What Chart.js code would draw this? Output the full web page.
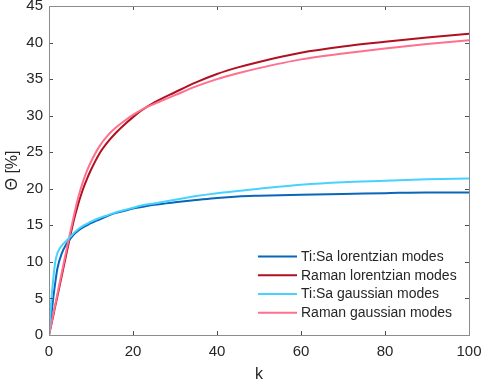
<!DOCTYPE html>
<html>
<head>
<meta charset="utf-8">
<script src="https://cdn.jsdelivr.net/npm/chart.js@4.4.1/dist/chart.umd.min.js"></script>
<style>
  html, body { margin: 0; padding: 0; background: #ffffff; }
  #wrap { width: 484px; height: 385px; }
</style>
</head>
<body>
<div id="wrap"><canvas id="c" width="484" height="385"></canvas></div>
<script>
// ---- data ----
const kValues = [0, 0.5, 1, 1.5, 2, 3, 4, 5, 6, 7, 8, 9, 10, 12, 14, 16, 18, 20, 22, 25, 30, 35, 40, 45, 50, 60, 70, 80, 90, 100];

const tiSaLorentzian = [0, 2.4, 5.0, 7.2, 9.1, 11.1, 12.3, 13.1, 13.8, 14.3, 14.7, 15.0, 15.3, 15.8, 16.3, 16.7, 17.0, 17.3, 17.5, 17.8, 18.15, 18.45, 18.75, 18.95, 19.05, 19.2, 19.3, 19.4, 19.5, 19.5];
const ramanLorentzian = [0, 1.3, 2.6, 4.0, 5.3, 8.0, 10.7, 13.4, 15.9, 18.0, 19.8, 21.3, 22.6, 24.8, 26.4, 27.7, 28.8, 29.8, 30.7, 31.8, 33.2, 34.55, 35.7, 36.6, 37.35, 38.6, 39.45, 40.1, 40.7, 41.2];
const tiSaGaussian = [0, 4.3, 7.6, 10.0, 11.2, 12.2, 12.8, 13.4, 14.0, 14.5, 14.9, 15.2, 15.5, 16.0, 16.4, 16.8, 17.1, 17.4, 17.7, 18.0, 18.5, 19.0, 19.4, 19.7, 20.0, 20.55, 20.9, 21.1, 21.3, 21.4];
const ramanGaussian = [0, 1.4, 2.8, 4.2, 5.6, 8.4, 11.2, 13.9, 16.5, 18.9, 20.8, 22.4, 23.7, 25.8, 27.3, 28.4, 29.3, 30.1, 30.8, 31.6, 32.8, 34.0, 35.0, 35.8, 36.5, 37.7, 38.5, 39.2, 39.8, 40.3];

const seriesLabels = ["Ti:Sa lorentzian modes", "Raman lorentzian modes", "Ti:Sa gaussian modes", "Raman gaussian modes"];
const xTickValues = [0, 20, 40, 60, 80, 100];
const yTickValues = [0, 5, 10, 15, 20, 25, 30, 35, 40, 45];
const xTitle = "k";
const yTitle = "\u0398 [%]";

// ---- styling ----
const colors = ["#0a66b8", "#b0101f", "#48d2ff", "#ff6f8e"];
const drawOrder = [1, 1, 0, 0];
const FONT = "'Liberation Sans', Arial, Helvetica, sans-serif";
const TEXT = "#262626";

function pts(ys) { return kValues.map((k, i) => ({ x: k, y: ys[i] })); }
const allSeries = [tiSaLorentzian, ramanLorentzian, tiSaGaussian, ramanGaussian];

const datasets = allSeries.map((s, i) => ({
  label: seriesLabels[i],
  data: pts(s),
  borderColor: colors[i],
  backgroundColor: colors[i],
  borderWidth: 2,
  pointRadius: 0,
  fill: false,
  cubicInterpolationMode: 'monotone',
  order: drawOrder[i]
}));

const boxPlugin = {
  id: 'boxAndTicks',
  afterDatasetsDraw(chart) {
    const { ctx, chartArea: a, scales } = chart;
    const xs = scales.x, ys = scales.y;
    ctx.save();
    ctx.strokeStyle = '#4d4d4d';
    ctx.lineWidth = 1;
    const tl = 4;
    ctx.beginPath();
    xTickValues.forEach(v => {
      const px = Math.round(xs.getPixelForValue(v)) + 0.5;
      ctx.moveTo(px, a.bottom); ctx.lineTo(px, a.bottom - tl);
      ctx.moveTo(px, a.top); ctx.lineTo(px, a.top + tl);
    });
    yTickValues.forEach(v => {
      const py = Math.round(ys.getPixelForValue(v)) + 0.5;
      ctx.moveTo(a.left, py); ctx.lineTo(a.left + tl, py);
      ctx.moveTo(a.right, py); ctx.lineTo(a.right - tl, py);
    });
    ctx.stroke();
    ctx.strokeStyle = '#8c8c8c';
    ctx.lineWidth = 1;
    ctx.strokeRect(Math.round(a.left) + 0.5, Math.round(a.top) + 0.5,
                   Math.round(a.right - a.left), Math.round(a.bottom - a.top));
    ctx.restore();
  },
  afterDraw(chart) {
    const { ctx, chartArea: a } = chart;
    ctx.save();
    const x0 = a.right - 211, x1 = a.right - 172, tx = a.right - 168;
    const y0 = a.bottom - 78.5, dy = 18.75;
    ctx.font = '14px ' + FONT;
    ctx.textBaseline = 'middle';
    ctx.textAlign = 'left';
    chart.data.datasets.forEach((d, i) => {
      const y = y0 + i * dy;
      ctx.strokeStyle = d.borderColor;
      ctx.lineWidth = 2;
      ctx.beginPath(); ctx.moveTo(x0, y); ctx.lineTo(x1, y); ctx.stroke();
      ctx.fillStyle = TEXT;
      ctx.fillText(d.label, tx, y + 0.5);
    });
    ctx.restore();
  }
};

new Chart(document.getElementById('c'), {
  type: 'line',
  data: { datasets },
  options: {
    responsive: false,
    animation: false,
    devicePixelRatio: 1,
    layout: { padding: { left: 0, top: 6, right: 15, bottom: 0 } },
    plugins: { legend: { display: false }, tooltip: { enabled: false } },
    scales: {
      x: {
        type: 'linear', min: 0, max: 100,
        afterBuildTicks(s) { s.ticks = xTickValues.map(v => ({ value: v })); },
        afterFit(s) { s.height = 50; },
        grid: { display: false, drawTicks: true, tickLength: 8 },
        border: { display: false },
        ticks: { color: TEXT, padding: 0, maxRotation: 0, autoSkip: false,
                 font: { family: FONT, size: 15, lineHeight: 1.2 } },
        title: { display: true, text: xTitle, color: TEXT,
                 font: { family: FONT, size: 16, lineHeight: 1.2 },
                 padding: { top: 0, bottom: 0.5 } }
      },
      y: {
        type: 'linear', min: 0, max: 45,
        afterBuildTicks(s) { s.ticks = yTickValues.map(v => ({ value: v })); },
        afterFit(s) { s.width = 49; },
        grid: { display: false, drawTicks: true, tickLength: 6 },
        border: { display: false },
        ticks: { color: TEXT, padding: 0, autoSkip: false,
                 font: { family: FONT, size: 15, lineHeight: 0.8 } },
        title: { display: true, text: yTitle, color: TEXT,
                 font: { family: FONT, size: 16, lineHeight: 1.2 },
                 padding: { top: 3, bottom: 0 } }
      }
    }
  },
  plugins: [boxPlugin]
});
</script>
</body>
</html>
